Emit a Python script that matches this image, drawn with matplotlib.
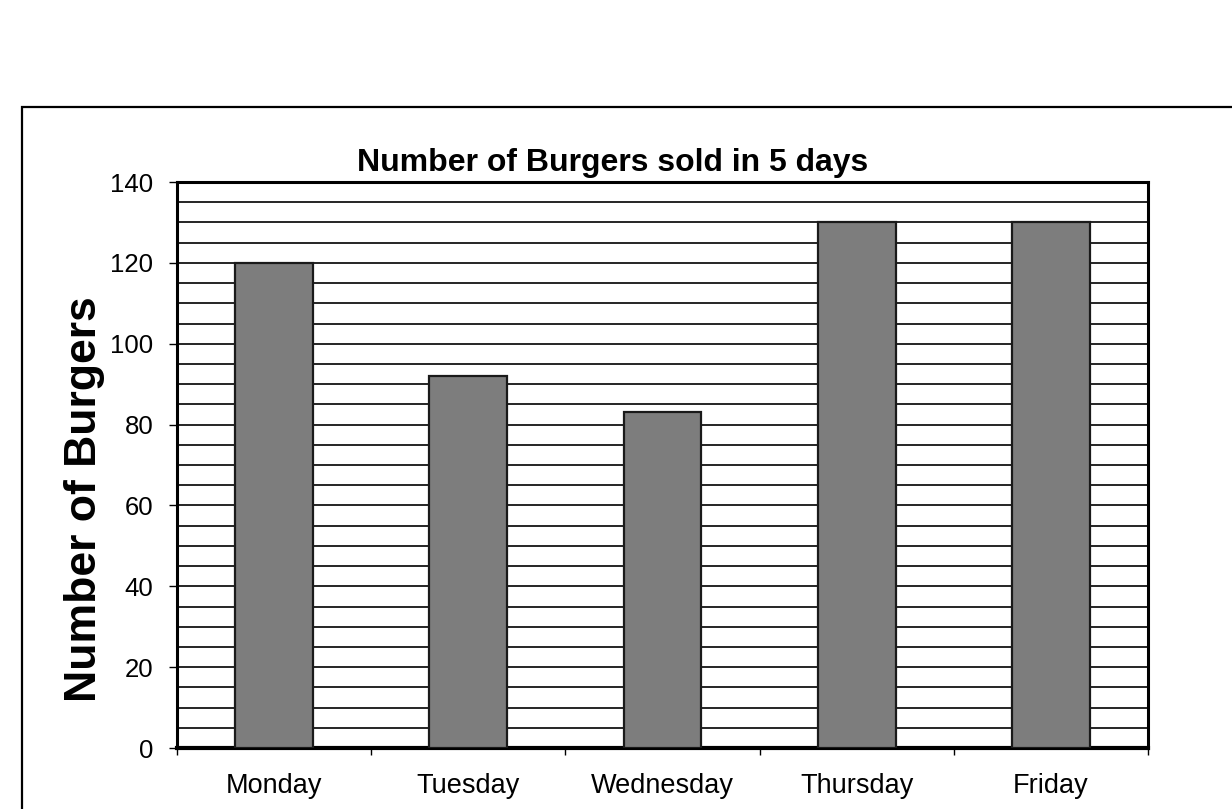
import numpy as np
import matplotlib
matplotlib.use("Agg")
import matplotlib.pyplot as plt
from matplotlib.patches import Rectangle

# -----------------------------
# Data
# -----------------------------

days = ["Monday", "Tuesday", "Wednesday", "Thursday", "Friday"]
burgers = [120, 92, 83, 130, 130]

y_ticks = [0, 20, 40, 60, 80, 100, 120, 140]

TITLE = "Number of Burgers sold in 5 days"
Y_LABEL = "Number of Burgers"

plt.rcParams["font.family"] = ["Liberation Sans", "DejaVu Sans"]

# -----------------------------
# Figure and axes
# -----------------------------

fig = plt.figure(figsize=(12.32, 8.09), dpi=100)
ax = fig.add_axes([0.1437, 0.0754, 0.7881, 0.6996])

# outer frame around the whole chart (runs off the right / bottom edge)
frame = Rectangle(
    (22 / 1232, -0.05),
    1.2,
    1 - 107 / 809 + 0.05,
    transform=fig.transFigure,
    fill=False,
    edgecolor="black",
    linewidth=1.6,
)
fig.patches.append(frame)

x = np.arange(len(days))

ax.bar(
    x,
    burgers,
    width=0.40,
    color="#7d7d7d",
    edgecolor="#1a1a1a",
    linewidth=1.6,
    zorder=3,
)

ax.set_xlim(-0.5, len(days) - 0.5)
ax.set_ylim(0, 140)

# horizontal lines every 5 burgers
ax.set_yticks(y_ticks)
ax.set_yticks(np.arange(0, 141, 5), minor=True)
ax.yaxis.grid(True, which="both", color="black", linewidth=1.2, zorder=0)
ax.set_axisbelow(True)
ax.tick_params(axis="y", which="minor", length=0)
ax.tick_params(axis="y", which="major", length=6, width=1, pad=11,
               labelsize=18.5)

# category labels centred, tick marks between categories
ax.set_xticks(x)
ax.set_xticklabels(days)
ax.set_xticks(np.arange(-0.5, len(days), 1.0), minor=True)
ax.tick_params(axis="x", which="major", length=0, pad=18, labelsize=19.5)
ax.tick_params(axis="x", which="minor", length=5, width=1)

for side in ["left", "right", "top"]:
    ax.spines[side].set_linewidth(2.2)
ax.spines["bottom"].set_linewidth(3)

ax.set_ylabel(Y_LABEL, fontsize=32, fontweight="bold")
ax.yaxis.set_label_coords(-0.074, 0.44)

fig.text(0.497, 1 - 163 / 809, TITLE, fontsize=23, fontweight="bold",
         ha="center", va="center")

fig.savefig("out.png", dpi=100, facecolor="white")
